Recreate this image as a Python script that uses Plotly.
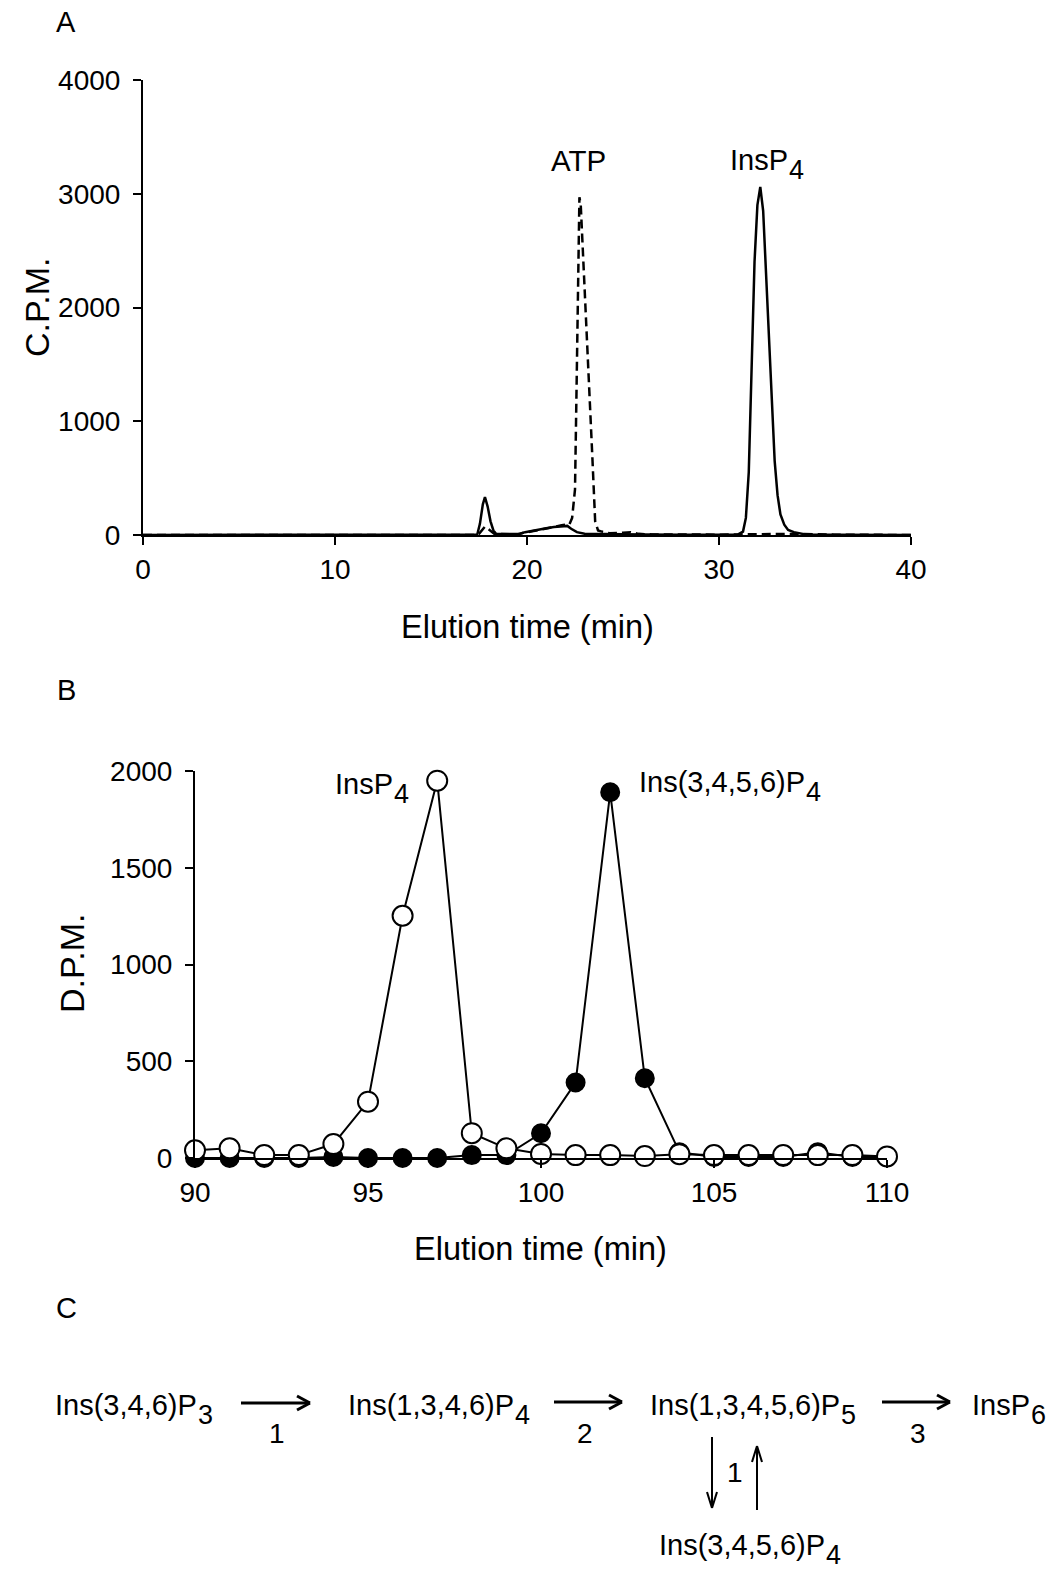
import plotly.graph_objects as go

W, H = 1050, 1571
FONT = "Arial, Liberation Sans, sans-serif"

# ---------------- Panel A data (HPLC elution, C.P.M.) ----------------
a_solid_t = [0, 5, 10, 15, 17.0, 17.41, 17.55, 17.7, 17.81, 17.95, 18.1, 18.25, 18.4, 19.0, 19.6,
             19.9, 20.3, 20.7, 21.0, 21.4, 21.8, 22.1, 22.3, 22.6, 23.0, 24.0, 25.0, 26.0, 28.0,
             30.0, 31.0, 31.25, 31.4, 31.55, 31.7, 31.85, 32.0, 32.15, 32.3, 32.45, 32.6, 32.75,
             32.9, 33.05, 33.2, 33.4, 33.6, 33.9, 34.2, 34.5, 36.0, 40.0]
a_solid_v = [0, 0, 0, 0, 0, 5, 100, 270, 334, 250, 120, 40, 8, 5, 8,
             25, 40, 55, 60, 70, 75, 80, 55, 25, 12, 8, 10, 5, 3,
             3, 5, 30, 150, 550, 1500, 2400, 2900, 3060, 2850, 2300, 1700, 1100,
             650, 350, 180, 90, 45, 25, 15, 5, 2, 0]

a_dash_t = [0, 5, 10, 15, 17.3, 17.5, 17.7, 17.81, 18.0, 18.3, 19.5, 19.8, 20.2, 20.6, 21.0,
            21.4, 21.8, 22.0, 22.2, 22.35, 22.5, 22.6, 22.68, 22.73, 22.8, 23.0, 23.2, 23.4,
            23.55, 23.7, 23.9, 24.3, 25.0, 25.4, 25.8, 26.5, 30.0, 33.0, 34.0, 36.0, 40.0]
a_dash_v = [0, 0, 0, 0, 0, 10, 55, 73, 50, 10, 5, 20, 30, 45, 60,
            75, 85, 90, 90, 150, 400, 1500, 2700, 2970, 2900, 2200, 1450, 700,
            120, 40, 30, 15, 20, 25, 10, 5, 3, 5, 10, 3, 0]

# ---------------- Panel B data (D.P.M. per fraction) ----------------
b_time = list(range(90, 111))
b_open = [40, 50, 15, 15, 72, 291, 1252, 1950, 128, 50, 21, 15, 15, 10, 20,
          15, 15, 15, 15, 15, 8]
b_filled = [0, 0, 0, 0, 5, 0, 0, 0, 15, 15, 128, 390, 1890, 412, 30,
            5, 5, 5, 30, 5, 5]

fig = go.Figure()

# Panel A traces
fig.add_trace(go.Scatter(x=a_dash_t, y=a_dash_v, mode="lines", xaxis="x", yaxis="y",
                         line=dict(color="black", width=2.5, dash="9px,5px"), showlegend=False))
fig.add_trace(go.Scatter(x=a_solid_t, y=a_solid_v, mode="lines", xaxis="x", yaxis="y",
                         line=dict(color="black", width=2.5), showlegend=False))

# Panel B traces
fig.add_trace(go.Scatter(x=b_time, y=b_filled, mode="lines+markers", xaxis="x2", yaxis="y2",
                         line=dict(color="black", width=2),
                         marker=dict(symbol="circle", size=18, color="black",
                                     line=dict(color="black", width=2)),
                         cliponaxis=False, showlegend=False))
fig.add_trace(go.Scatter(x=b_time, y=b_open, mode="lines+markers", xaxis="x2", yaxis="y2",
                         line=dict(color="black", width=2),
                         marker=dict(symbol="circle", size=20, color="white",
                                     line=dict(color="black", width=2)),
                         cliponaxis=False, showlegend=False))

def px(x):
    return x / W

def py(y):
    return 1 - y / H

axis_common = dict(showgrid=False, zeroline=False, showline=True, linecolor="black",
                   linewidth=2, ticks="outside", ticklen=8, tickwidth=2, tickcolor="black",
                   automargin=False,
                   tickfont=dict(family=FONT, size=28, color="black"))

fig.update_layout(
    width=W, height=H,
    margin=dict(l=0, r=0, t=0, b=0, pad=0, autoexpand=False),
    paper_bgcolor="white", plot_bgcolor="white",
    xaxis=dict(domain=[px(143), px(911)], range=[0, 40], tickvals=[0, 10, 20, 30, 40],
               anchor="y", **axis_common),
    yaxis=dict(domain=[py(535), py(80)], range=[0, 4000], tickvals=[0, 1000, 2000, 3000, 4000],
               anchor="x", ticklabelstandoff=7, **axis_common),
    xaxis2=dict(domain=[px(195), px(887)], range=[90, 110], tickvals=[90, 95, 100, 105, 110],
                anchor="y2", **axis_common),
    yaxis2=dict(domain=[py(1158), py(771)], range=[0, 2000], tickvals=[0, 500, 1000, 1500, 2000],
                anchor="x2", ticklabelstandoff=7, **axis_common),
)

ann = []

def text(x, y, s, size=28, xanchor="center", yanchor="middle", angle=0):
    ann.append(dict(x=px(x), y=py(y), xref="paper", yref="paper", text=s, showarrow=False,
                    xanchor=xanchor, yanchor=yanchor, textangle=angle,
                    font=dict(family=FONT, size=size, color="black")))

# Arial / Liberation Sans advance widths (em) for the label characters
ADV = {"I": .278, "n": .556, "s": .5, "(": .333, ")": .333, ",": .278, "P": .667}

def adv(s):
    return sum(ADV.get(c, .556) for c in s)

MAIN, SUBSZ = 29, 27

def chem(left, ycap, base, digit):
    """Main text left-anchored with a lowered full-size subscript digit."""
    text(left, ycap + 2, base, MAIN, xanchor="left")
    text(left + adv(base) * MAIN + 1, ycap + 12, digit, SUBSZ, xanchor="left")

# panel letters
text(66, 22, "A", 29)
text(66, 690, "B", 29)
text(66, 1308, "C", 29)

# axis titles
text(37, 307, "C.P.M.", 34, angle=-90)
text(527, 627, "Elution time (min)", 32.5)
text(72, 963, "D.P.M.", 34, angle=-90)
text(540, 1249, "Elution time (min)", 32.5)

# peak labels (panel A)
text(578, 160, "ATP", 29.5)
chem(728, 158, "InsP", "4")
# peak labels (panel B)
chem(333, 782, "InsP", "4")
chem(637, 780, "Ins(3,4,5,6)P", "4")

# panel C pathway
row = 1403
chem(53, row, "Ins(3,4,6)P", "3")
chem(346, row, "Ins(1,3,4,6)P", "4")
chem(648, row, "Ins(1,3,4,5,6)P", "5")
chem(970, row, "InsP", "6")
chem(657, 1543, "Ins(3,4,5,6)P", "4")
text(277, 1433, "1", 28)
text(585, 1433, "2", 28)
text(918, 1433, "3", 28)
text(735, 1472, "1", 28)

fig.update_layout(annotations=ann)

shapes = []

def arrow(x1, y1, x2, y2, width, head=13, spread=7):
    # shaft
    shapes.append(dict(type="line", xref="paper", yref="paper",
                       x0=px(x1), y0=py(y1), x1=px(x2), y1=py(y2),
                       line=dict(color="black", width=width)))
    # open V head
    dx, dy = x2 - x1, y2 - y1
    L = (dx ** 2 + dy ** 2) ** 0.5
    ux, uy = dx / L, dy / L
    nx, ny = -uy, ux
    for s in (1, -1):
        hx = x2 - ux * head + nx * spread * s
        hy = y2 - uy * head + ny * spread * s
        shapes.append(dict(type="line", xref="paper", yref="paper",
                           x0=px(hx), y0=py(hy), x1=px(x2), y1=py(y2),
                           line=dict(color="black", width=width)))

arrow(241, 1403, 310, 1403, 3)
arrow(554, 1402, 622, 1402, 3)
arrow(882, 1402, 950, 1402, 3)
arrow(712, 1437, 712, 1508, 2, head=16, spread=5)
arrow(757, 1510, 757, 1446, 2, head=16, spread=5)

fig.update_layout(shapes=shapes)

fig.write_html("out.html",
               config={"displayModeBar": False},
               post_script="document.body.style.margin='0';document.body.style.padding='0';"
                           "document.body.style.overflow='hidden';")
